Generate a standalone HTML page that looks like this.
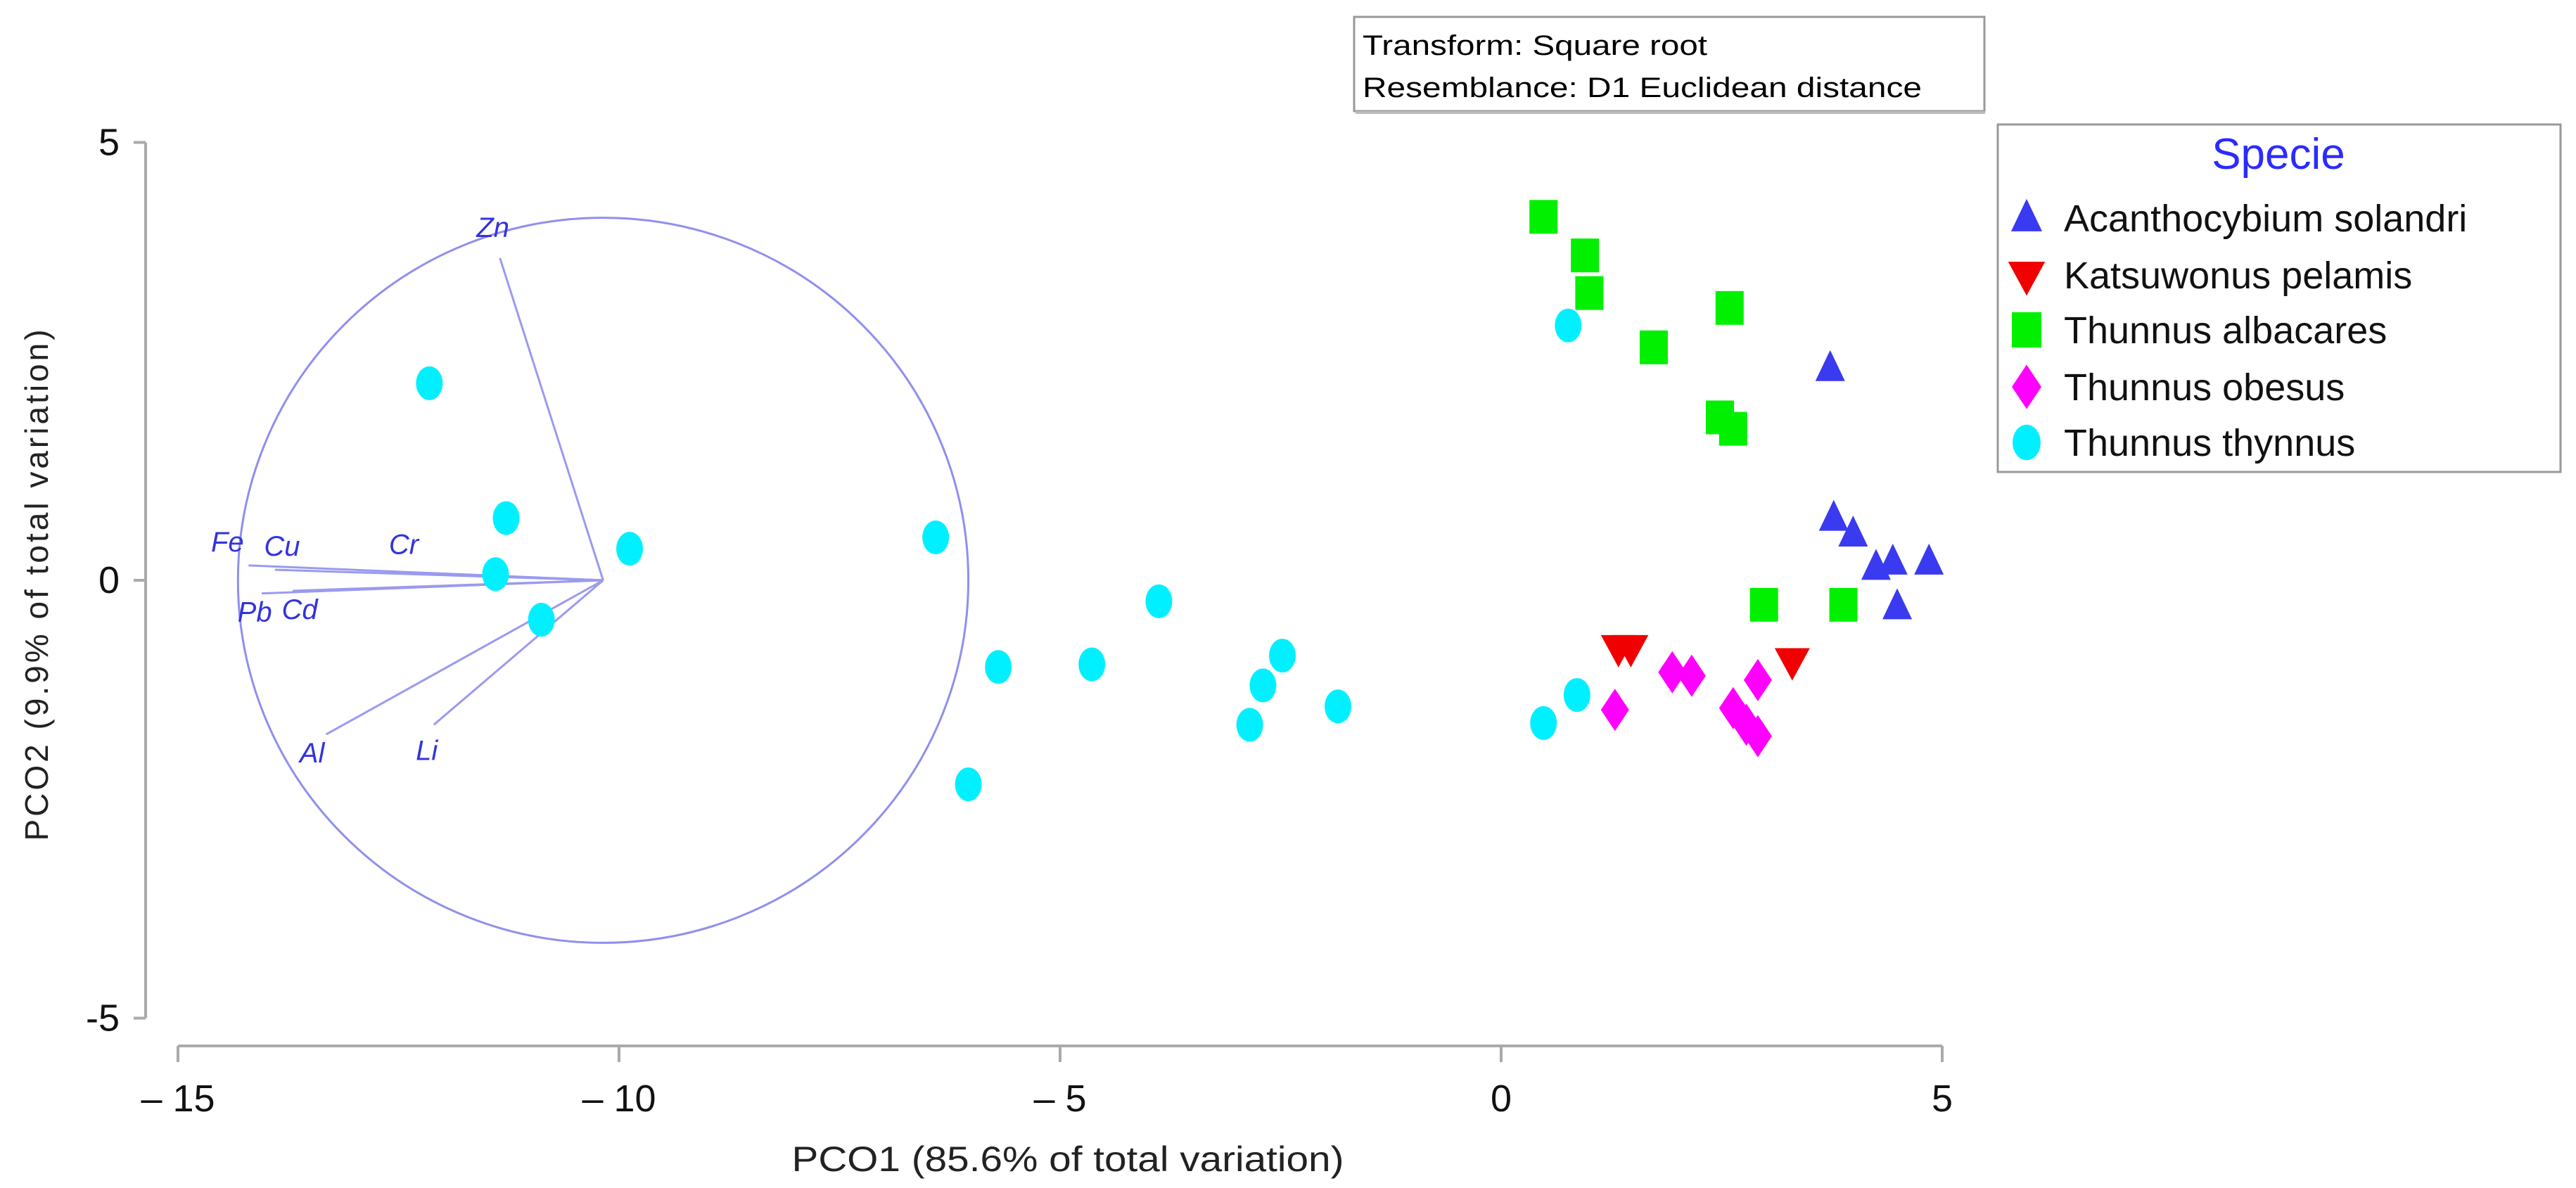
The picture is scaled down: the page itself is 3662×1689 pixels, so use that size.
<!DOCTYPE html>
<html><head><meta charset="utf-8"><style>body{margin:0;background:#fff}svg{display:block}text{font-family:"Liberation Sans",Arial,sans-serif}</style></head>
<body>
<svg id="chart" width="3662" height="1689" viewBox="0 0 3662 1689" xmlns="http://www.w3.org/2000/svg">
<g id="axes"></g>
<g id="vectors"></g>
<g id="points"></g>
<g>
<rect x="1925" y="24" width="896" height="134" fill="#fff" stroke="#999" stroke-width="3"/>
<line x1="1927" y1="160" x2="2822" y2="160" stroke="#bbb" stroke-width="4"/>
<text x="1937" y="78" font-size="40" textLength="490" lengthAdjust="spacingAndGlyphs">Transform: Square root</text>
<text x="1937" y="138" font-size="40" textLength="795" lengthAdjust="spacingAndGlyphs">Resemblance: D1 Euclidean distance</text>
</g>
<g id="legend">
<rect x="2840" y="177" width="800" height="494" fill="#fff" stroke="#999" stroke-width="3"/>
<text x="3239" y="240" font-size="62" fill="#2b2bff" text-anchor="middle">Specie</text>
</g>
<text x="1518" y="1665" font-size="50" text-anchor="middle" fill="#222" textLength="785" lengthAdjust="spacingAndGlyphs">PCO1 (85.6% of total variation)</text>
<text transform="translate(68,830) rotate(-90)" font-size="46" text-anchor="middle" fill="#222" letter-spacing="4">PCO2 (9.9% of total variation)</text>
</svg>
<script>
const xTicks = [-15, -10, -5, 0, 5];
const xTickLabels = ["– 15", "– 10", "– 5", "0", "5"];
const yTicks = [5, 0, -5];
const yTickLabels = ["5", "0", "-5"];
const species = ["Acanthocybium solandri", "Katsuwonus pelamis", "Thunnus albacares", "Thunnus obesus", "Thunnus thynnus"];
const acanthX = [3.73, 3.77, 3.99, 4.25, 4.44, 4.85, 4.49];
const acanthY = [2.42, 0.71, 0.53, 0.15, 0.21, 0.21, -0.30];
const katsuX = [1.33, 1.47, 3.30];
const katsuY = [-0.77, -0.77, -0.92];
const albaX = [0.48, 0.95, 1.0, 2.59, 1.73, 2.48, 2.63, 2.98, 3.88];
const albaY = [4.15, 3.71, 3.28, 3.11, 2.66, 1.86, 1.73, -0.28, -0.28];
const obesusX = [1.29, 1.94, 2.16, 2.91, 2.63, 2.78, 2.91];
const obesusY = [-1.48, -1.05, -1.09, -1.14, -1.46, -1.65, -1.78];
const thynnusX = [-12.15, -11.28, -11.4, -10.88, -9.88, -6.41, -5.70, -4.64, -3.88, -2.48, -2.70, -2.85, -1.85, -6.04, 0.76, 0.48, 0.86];
const thynnusY = [2.25, 0.71, 0.07, -0.45, 0.36, 0.49, -0.99, -0.96, -0.24, -0.86, -1.2, -1.65, -1.44, -2.33, 2.91, -1.63, -1.31];
const vecNames = ["Zn", "Fe", "Cu", "Cr", "Pb", "Cd", "Al", "Li"];
const vecX = [-11.35, -14.2, -13.9, -12.6, -14.05, -13.7, -13.32, -12.1];
const vecY = [3.68, 0.17, 0.12, 0.10, -0.15, -0.12, -1.76, -1.65];
const vecOriginX = -10.18, vecOriginY = 0, circleR = 4.14;

const NS = "http://www.w3.org/2000/svg";
const X = v => 2134 + v * 125.4;
const Y = v => 825 - v * 124.5;
function mk(tag, attrs, parent) { const e = document.createElementNS(NS, tag); for (const k in attrs) e.setAttribute(k, attrs[k]); parent.appendChild(e); return e; }

const axes = document.getElementById('axes');
let e = mk('line', {x1: 207, y1: Y(5), x2: 207, y2: Y(-5), stroke: '#aaa', 'stroke-width': 4}, axes);


e = mk('line', {x1: X(-15), y1: 1487, x2: X(5), y2: 1487, stroke: '#aaa', 'stroke-width': 4}, axes);


xTicks.forEach((t, i) => {
  const l = mk('line', {x1: X(t), y1: 1487, x2: X(t), y2: 1510, stroke: '#aaa', 'stroke-width': 4}, axes);
  
  
  const tx = mk('text', {x: X(t), y: 1580, 'font-size': 54, 'text-anchor': 'middle', fill: '#111'}, axes);
  tx.textContent = xTickLabels[i];
  
  
});
yTicks.forEach((t, i) => {
  const l = mk('line', {x1: 190, y1: Y(t), x2: 207, y2: Y(t), stroke: '#aaa', 'stroke-width': 4}, axes);
  
  
  const tx = mk('text', {x: 170, y: Y(t) + 18, 'font-size': 54, 'text-anchor': 'end', fill: '#111'}, axes);
  tx.textContent = yTickLabels[i];
  
  
});

const vg = document.getElementById('vectors');
e = mk('ellipse', {cx: X(vecOriginX), cy: Y(vecOriginY), rx: circleR * 125.4, ry: circleR * 124.5, fill: 'none', stroke: '#8f8fef', 'stroke-width': 3}, vg);


const labOff = {Zn: [-10, -30], Fe: [-30, -20], Cu: [10, -20], Cr: [20, -25], Pb: [-10, 40], Cd: [10, 40], Al: [-20, 40], Li: [-10, 50]};
vecNames.forEach((n, i) => {
  const l = mk('line', {x1: X(vecOriginX), y1: Y(vecOriginY), x2: X(vecX[i]), y2: Y(vecY[i]), stroke: '#9a9af0', 'stroke-width': 3}, vg);
  
  
  const o = labOff[n];
  const t = mk('text', {x: X(vecX[i]) + o[0], y: Y(vecY[i]) + o[1], 'font-size': 40, 'font-style': 'italic', fill: '#3333dd', 'text-anchor': 'middle'}, vg);
  t.textContent = n;
  
  
});

function marker(kind, cx, cy, g, s) {
  s = s || 1;
  let m;
  if (kind === 0) m = mk('polygon', {points: `${cx},${cy-26*s} ${cx-21*s},${cy+18*s} ${cx+21*s},${cy+18*s}`, fill: '#3a3af0'}, g);
  else if (kind === 1) m = mk('polygon', {points: `${cx-25*s},${cy-18*s} ${cx+25*s},${cy-18*s} ${cx},${cy+28*s}`, fill: '#f00000'}, g);
  else if (kind === 2) m = mk('rect', {x: cx-20*s, y: cy-24*s, width: 40*s, height: 48*s, fill: '#00f000'}, g);
  else if (kind === 3) m = mk('polygon', {points: `${cx},${cy-30*s} ${cx+20*s},${cy} ${cx},${cy+30*s} ${cx-20*s},${cy}`, fill: '#ff00ff'}, g);
  else m = mk('ellipse', {cx: cx, cy: cy, rx: 19*s, ry: 24*s, fill: '#00f0ff'}, g);
  return m;
}
const pg = document.getElementById('points');
const seriesX = [acanthX, katsuX, albaX, obesusX, thynnusX];
const seriesY = [acanthY, katsuY, albaY, obesusY, thynnusY];
const slug = ['acanthocybium', 'katsuwonus', 'albacares', 'obesus', 'thynnus'];
seriesX.forEach((xs, k) => {
  xs.forEach((v, i) => {
    const m = marker(k, X(v), Y(seriesY[k][i]), pg);
    
    
  });
});

const lg = document.getElementById('legend');
const legY = [310, 391, 469, 550, 629];
species.forEach((s, i) => {
  const m = marker(i, 2881, legY[i], lg, 1.05);
  
  
  const t = mk('text', {x: 2934, y: legY[i] + 19, 'font-size': 54, fill: '#111'}, lg);
  t.textContent = s;
  
  
});
</script>
</body></html>
